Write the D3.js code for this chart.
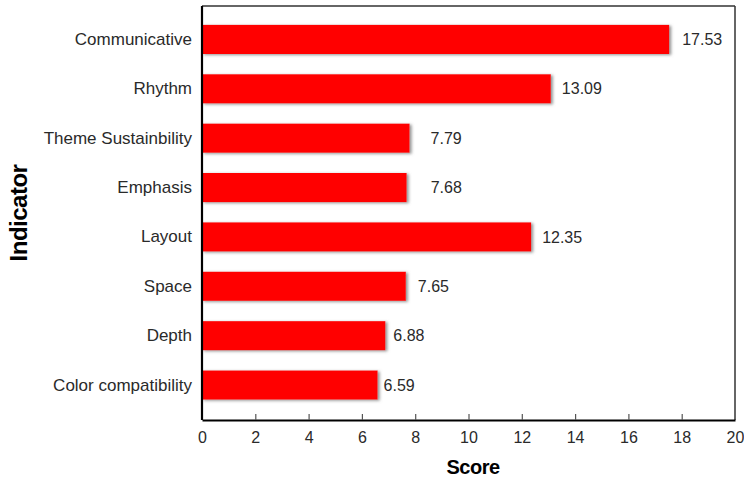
<!DOCTYPE html>
<html>
<head>
<meta charset="utf-8">
<script src="https://cdn.jsdelivr.net/npm/d3@7"></script>
<style>
  body { margin: 0; background: #fff; }
  text { font-family: "Liberation Sans", Arial, sans-serif; }
</style>
</head>
<body>
<svg id="chart" width="744" height="479"></svg>
<script>
// chart data
const indicators = ["Communicative", "Rhythm", "Theme Sustainbility", "Emphasis", "Layout", "Space", "Depth", "Color compatibility"];
const scores = [17.53, 13.09, 7.79, 7.68, 12.35, 7.65, 6.88, 6.59];
const xTicks = [0, 2, 4, 6, 8, 10, 12, 14, 16, 18, 20];

// gap between bar end and its value label (as in the original)
const labelGap = [13, 11, 21, 24, 11, 12, 8, 6];

const svg = d3.select("#chart");
const frame = { left: 202, right: 735, top: 6, bottom: 420 };

const x = d3.scaleLinear().domain([0, 20]).range([frame.left, frame.right]);
const y = d3.scaleBand().domain(indicators).range([15, 409.5]).paddingInner(0.41).paddingOuter(0.2);

// soft shadow under the bars
const defs = svg.append("defs");
defs.append("filter").attr("id", "shadow")
    .attr("x", "-10%").attr("y", "-30%").attr("width", "120%").attr("height", "160%")
  .append("feDropShadow")
    .attr("dx", 2).attr("dy", 1).attr("stdDeviation", 1.8)
    .attr("flood-color", "#777").attr("flood-opacity", 0.8);

const rows = indicators.map((name, i) => ({ name, value: scores[i], gap: labelGap[i] }));

// bars
svg.append("g").selectAll("rect")
    .data(rows)
    .enter().append("rect")
    .attr("x", x(0))
    .attr("y", d => y(d.name))
    .attr("width", d => x(d.value) - x(0))
    .attr("height", y.bandwidth())
    .attr("fill", "#ff0000")
    .attr("filter", "url(#shadow)");

// value labels
svg.append("g").selectAll("text")
    .data(rows)
    .enter().append("text")
    .attr("x", d => x(d.value) + d.gap)
    .attr("y", d => y(d.name) + y.bandwidth() / 2)
    .attr("dy", "0.35em")
    .attr("font-size", 16)
    .attr("fill", "#2a2a2a")
    .text(d => d.value.toFixed(2));

// frame (top and right thin)
svg.append("line").attr("x1", frame.left).attr("x2", frame.right).attr("y1", frame.top).attr("y2", frame.top)
    .attr("stroke", "#333").attr("stroke-width", 1.5);
svg.append("line").attr("x1", frame.right).attr("x2", frame.right).attr("y1", frame.top).attr("y2", frame.bottom)
    .attr("stroke", "#333").attr("stroke-width", 1.5);

// x axis, ticks pointing inward
const xAxis = svg.append("g")
    .attr("transform", `translate(0,${frame.bottom})`)
    .call(d3.axisBottom(x).tickValues(xTicks).tickSizeInner(-6).tickSizeOuter(0).tickPadding(12));
xAxis.select(".domain").attr("stroke", "#000").attr("stroke-width", 2.2);
xAxis.selectAll(".tick line").attr("stroke", "#555").attr("stroke-width", 1.2)
    .filter(d => d === 0 || d === 20).remove();
xAxis.selectAll(".tick text").attr("font-size", 16).attr("fill", "#2a2a2a")
    .attr("font-family", "'Liberation Sans', Arial, sans-serif");

// y axis
const yAxis = svg.append("g")
    .attr("transform", `translate(${frame.left},0)`)
    .call(d3.axisLeft(y).tickSize(0).tickPadding(10));
yAxis.select(".domain").attr("d", `M0,${frame.top}V${frame.bottom}`)
    .attr("stroke", "#000").attr("stroke-width", 2.2);
yAxis.selectAll(".tick text").attr("font-size", 17).attr("fill", "#2a2a2a")
    .attr("font-family", "'Liberation Sans', Arial, sans-serif");

// axis titles
svg.append("text")
    .attr("x", 473).attr("y", 474)
    .attr("text-anchor", "middle")
    .attr("font-size", 20).attr("font-weight", "bold")
    .attr("letter-spacing", "-0.5")
    .text("Score");

svg.append("text")
    .attr("transform", "translate(27,213) rotate(-90)")
    .attr("text-anchor", "middle")
    .attr("font-size", 24).attr("font-weight", "bold")
    .attr("letter-spacing", "-0.5")
    .text("Indicator");
</script>
</body>
</html>
